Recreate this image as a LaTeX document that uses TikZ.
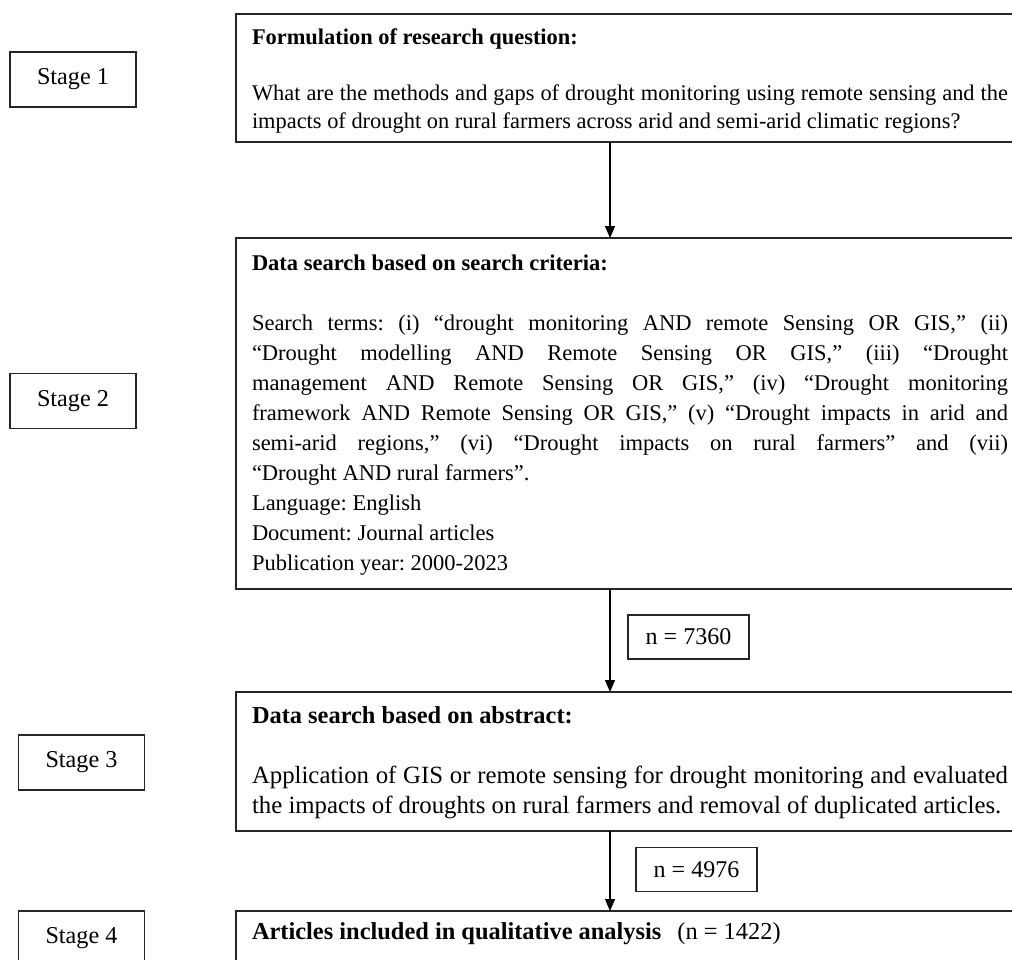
\documentclass[tikz,border=0pt]{standalone}
\usepackage{fontspec}
\setmainfont{Liberation Serif}
\usetikzlibrary{arrows.meta}

\begin{document}
\begin{tikzpicture}[x=1pt, y=1pt,
    stagebox/.style={draw=black!85, line width=1.3pt, minimum width=126pt, minimum height=55pt, inner sep=0pt, font=\fontsize{24.2}{29}\selectfont},
    mainbox/.style={draw=black!85, line width=1.3pt, anchor=north west, inner xsep=16pt, inner ysep=0pt, outer sep=0pt},
    countbox/.style={draw=black!85, line width=1.1pt, minimum width=121pt, minimum height=44pt, inner sep=0pt, font=\fontsize{24}{29}\selectfont},
    flowarrow/.style={line width=1.3pt, -{Triangle[length=12pt, width=10pt]}}]
    \useasboundingbox (0,0) rectangle (1012,-959);
    \frenchspacing
    \hyphenpenalty=10000 \exhyphenpenalty=10000

    % Stage labels
    \node[stagebox] (stage1) at (73,-79.5) {Stage 1};
    \node[stagebox] (stage2) at (73,-401) {Stage 2};
    \node[stagebox] (stage3) at (81.5,-762.5) {Stage 3};
    \node[stagebox] (stage4) at (81.5,-938.5) {Stage 4};

    % Main boxes
    \node[mainbox] (question) at (236,-14) {\parbox[c][128pt][t]{756pt}{\fontsize{22.4}{28}\selectfont
        \vspace*{14.5pt}\rule{0pt}{16pt}\textbf{Formulation of research question:}\\[28pt]
        What are the methods and gaps of drought monitoring using remote sensing and the\linebreak
        impacts of drought on rural farmers across arid and semi-arid climatic regions?}};
    \node[mainbox] (search) at (236,-238) {\parbox[c][351pt][t]{756pt}{\fontsize{22.5}{30}\selectfont
        \vspace*{16.5pt}\rule{0pt}{16pt}\textbf{Data search based on search criteria:}\\[30pt]
        Search terms: (i) “drought monitoring AND remote Sensing OR GIS,” (ii)\linebreak
        “Drought modelling AND Remote Sensing OR GIS,” (iii) “Drought\linebreak
        management AND Remote Sensing OR GIS,” (iv) “Drought monitoring\linebreak
        framework AND Remote Sensing OR GIS,” (v) “Drought impacts in arid and\linebreak
        semi-arid regions,” (vi) “Drought impacts on rural farmers” and (vii)\linebreak
        “Drought AND rural farmers”.\\
        Language: English\\
        Document: Journal articles\\
        Publication year: 2000-2023}};
    \node[mainbox] (abstract) at (236,-692) {\parbox[c][139pt][t]{756pt}{\fontsize{24.4}{30}\selectfont
        \vspace*{14.5pt}\rule{0pt}{17pt}\textbf{Data search based on abstract:}\\[30pt]
        \fontsize{24.8}{30}\selectfont
        Application of GIS or remote sensing for drought monitoring and evaluated\linebreak
        the impacts of droughts on rural farmers and removal of duplicated articles.}};
    \node[mainbox] (included) at (236,-911) {\parbox[c][70pt][t]{756pt}{\fontsize{24.4}{30}\selectfont
        \vspace*{11.5pt}\rule{0pt}{17pt}\textbf{Articles included in qualitative analysis}\hspace{16pt}(n = 1422)}};

    % Counts
    \node[countbox] (n7360) at (688.5,-637) {n = 7360};
    \node[countbox] (n4976) at (696.5,-869.5) {n = 4976};

    % Flow
    \coordinate (flow) at (610,0);
    \draw[flowarrow] (question.south -| flow) -- (search.north -| flow);
    \draw[flowarrow] (search.south -| flow) -- (abstract.north -| flow);
    \draw[flowarrow] (abstract.south -| flow) -- (included.north -| flow);
\end{tikzpicture}
\end{document}
